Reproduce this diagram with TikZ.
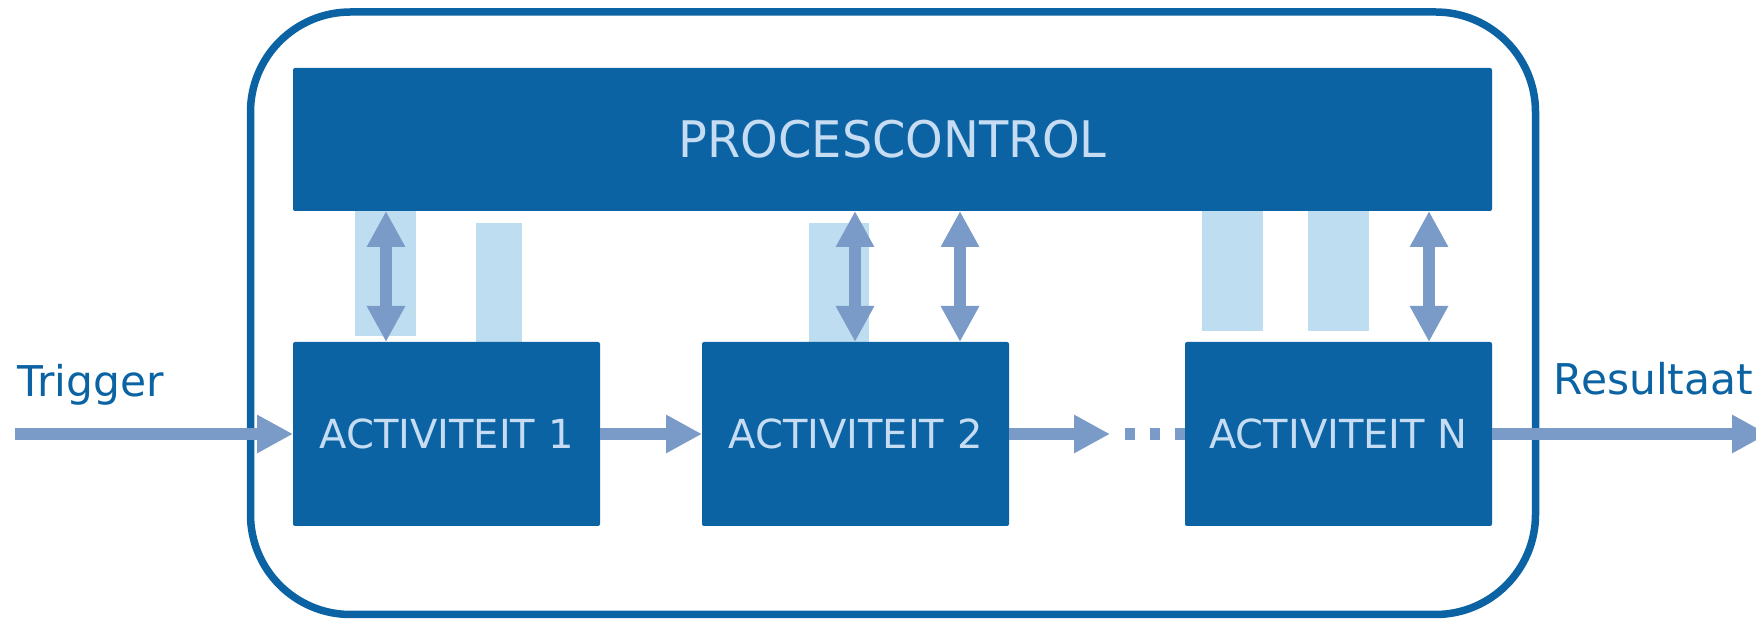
\documentclass[tikz,border=0pt]{standalone}
\usepackage{fontspec}
\setmainfont{DejaVu Sans}
\newfontfamily\pcfont[FakeStretch=0.95]{DejaVu Sans}
\usetikzlibrary{arrows.meta}
\definecolor{dkblue}{RGB}{12,99,163}
\definecolor{ltblue}{RGB}{190,221,241}
\definecolor{arrblue}{RGB}{122,155,200}
\definecolor{boxtext}{RGB}{197,220,242}
\tikzset{
  actbox/.style={fill=dkblue, text=boxtext, rounded corners=1pt, inner sep=0pt, outer sep=0pt,
    anchor=north west, minimum width=153.5pt, minimum height=92pt,
    font=\fontsize{20pt}{24pt}\selectfont},
  pcbox/.style={fill=dkblue, text=boxtext, rounded corners=1pt, inner sep=0pt, outer sep=0pt,
    anchor=north west, minimum width=599.5pt, minimum height=71.5pt,
    font=\pcfont\fontsize{25.2pt}{30pt}\selectfont},
  shade/.style={fill=ltblue},
  arr/.style={draw=arrblue, line width=6pt, -{Triangle[length=18pt,width=18pt]}},
  dbl/.style={draw=arrblue, line width=6pt, {Triangle[length=18pt,width=18pt]}-{Triangle[length=18pt,width=18pt]}},
  dotline/.style={draw=arrblue, line width=6pt, dash pattern=on 5pt off 7.5pt},
  lbl/.style={text=dkblue, inner sep=0pt, anchor=base west, font=\fontsize{21.2pt}{26pt}\selectfont},
  frame/.style={draw=dkblue, line width=3.75pt, rounded corners=50pt}
}
\begin{document}
\begin{tikzpicture}[x=0.5pt,y=-0.5pt]
\useasboundingbox (0,0) rectangle (1756,619);
% outer frame
\draw[frame] (250.5,12) rectangle (1535.5,614.5);
% light shaded bars
\fill[shade] (355,211) rectangle (416,336);
\fill[shade] (476,223) rectangle (522,342);
\fill[shade] (809,223) rectangle (869,342);
\fill[shade] (1202,211) rectangle (1263,331);
\fill[shade] (1308,211) rectangle (1369,331);
% boxes
\node[pcbox] (pc) at (293,68) {PROCESCONTROL};
\node[actbox] (a1) at (293,342) {ACTIVITEIT 1};
\node[actbox] (a2) at (702,342) {ACTIVITEIT 2};
\node[actbox] (aN) at (1185,342) {ACTIVITEIT N};
% labels
\node[lbl] (trig) at (17,397) {Trigger};
\node[lbl] (res) at (1553,395) {Resultaat};
% helper coordinates
\coordinate (x1) at (386,0);
\coordinate (x2) at (855,0);
\coordinate (x3) at (960,0);
\coordinate (x4) at (1429,0);
\coordinate (tin) at (15,434);
\coordinate (dtip) at (1110,434);
\coordinate (dstart) at (1125,434);
\coordinate (rout) at (1768,434);
% vertical double arrows
\draw[dbl] (pc.south -| x1) -- (a1.north -| x1);
\draw[dbl] (pc.south -| x2) -- (a2.north -| x2);
\draw[dbl] (pc.south -| x3) -- (a2.north -| x3);
\draw[dbl] (pc.south -| x4) -- (aN.north -| x4);
% horizontal arrows
\draw[arr] (tin) -- (a1.west);
\draw[arr] (a1.east) -- (a2.west);
\draw[arr] (a2.east) -- (dtip);
\draw[dotline] (dstart) -- (aN.west);
\draw[arr] (aN.east) -- (rout);
\end{tikzpicture}
\end{document}
